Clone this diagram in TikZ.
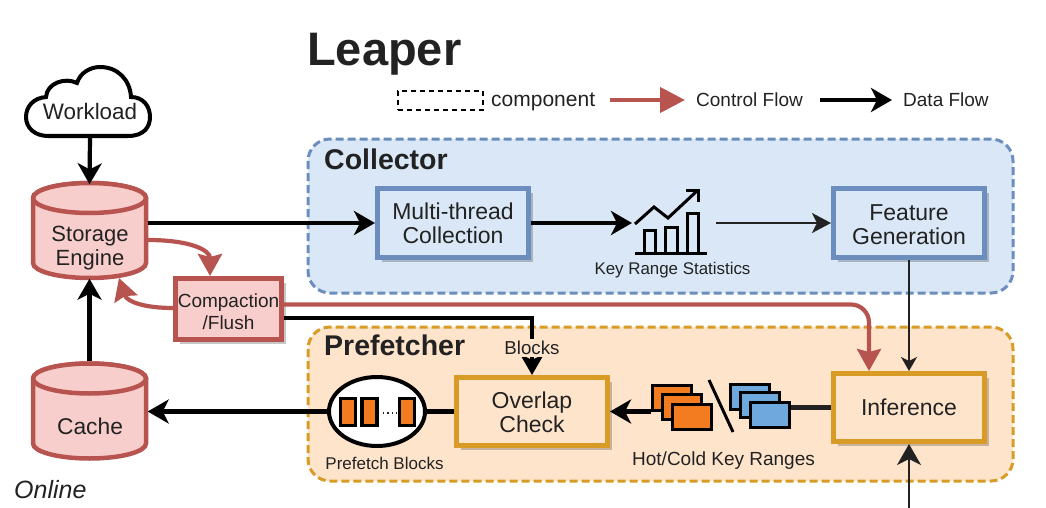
\documentclass[tikz,border=0pt]{standalone}
\usepackage{fontspec}
\setmainfont{Liberation Sans}
\usetikzlibrary{arrows.meta,shadows,calc,shapes.geometric}
\definecolor{ink}{HTML}{222222}
\definecolor{redS}{HTML}{B85450}
\definecolor{redF}{HTML}{F8CECC}
\definecolor{blueS}{HTML}{6C8EBF}
\definecolor{blueF}{HTML}{D9E7F6}
\definecolor{goldS}{HTML}{D79B26}
\definecolor{goldF}{HTML}{FFE4CC}
\definecolor{orangeF}{HTML}{F47C20}
\definecolor{skyF}{HTML}{6FA8DC}
\newcommand{\fs}[2]{\fontsize{#1}{#2}\selectfont}
\tikzset{
  lbl/.style={inner sep=0pt,text=ink,align=center},
  regionbox/.style={rounded corners=22pt,line width=3pt,dash pattern=on 8pt off 4pt},
  compbase/.style={rectangle,line width=5pt,inner sep=0pt,text=ink,align=center,font=\fs{23}{24},
    drop shadow={shadow xshift=4pt,shadow yshift=-4pt,fill=black,opacity=.22}},
  bluebox/.style={compbase,draw=blueS,fill=blueF,minimum width=151pt,minimum height=69pt},
  goldbox/.style={compbase,draw=goldS,fill=goldF,minimum width=151pt,minimum height=68pt},
  cylanchor/.style={rectangle,inner sep=0pt,minimum width=116pt,minimum height=99pt},
  cylbody/.style={draw=redS,fill=redF,line width=4.5pt},
  bigtip/.style={-{Stealth[length=21pt,width=24pt,inset=6pt]}},
  midtip/.style={-{Stealth[length=19pt,width=20pt,inset=5pt]}},
  smalltip/.style={-{Stealth[length=14pt,width=16pt,inset=4pt]}},
  redtip/.style={-{Stealth[length=22pt,width=24pt,inset=3pt]}},
  dataflow/.style={draw=black!90!ink,line width=4.2pt,bigtip},
  thinflow/.style={draw=ink,line width=1.7pt},
  ctrlflow/.style={draw=redS,line width=4.2pt,redtip},
  stack/.style={rectangle,draw=black,line width=3.5pt,inner sep=0pt,minimum width=39pt,minimum height=25pt},
  blk/.style={rectangle,draw=black,line width=3.5pt,fill=orangeF,inner sep=0pt,minimum width=15pt,minimum height=27pt},
}
\newcommand{\cylshape}[4]{% x1 x2 ytop ybot
  \path[cylbody] (#1,#3+17) arc[x radius={(#2-#1)/2},y radius=15,start angle=180,end angle=360]
    -- (#2,#4-17) arc[x radius={(#2-#1)/2},y radius=15,start angle=0,end angle=180] -- cycle;
  \path[cylbody] (#1,#3+17) arc[x radius={(#2-#1)/2},y radius=15,start angle=180,end angle=540];
}
\begin{document}
\begin{tikzpicture}[x=1pt,y=-1pt]
\useasboundingbox (0,0) rectangle (1046,508);
% regions
\path[regionbox,draw=blueS,fill=blueF] (308,139) rectangle (1013,293);
\path[regionbox,draw=goldS,fill=goldF] (308,327) rectangle (1013,481);
% titles
\node[lbl,font=\bfseries\fs{47}{50},anchor=west] (title) at (307,54) {Leaper};
\node[lbl,font=\bfseries\fs{28.5}{30},anchor=west] (collector) at (324,159) {Collector};
\node[lbl,font=\bfseries\fs{28.5}{30},anchor=west] (prefetcher) at (324,345) {Prefetcher};
\node[lbl,font=\itshape\fs{25}{26},anchor=west] (online) at (14,490) {Online};
% legend
\node[rectangle,draw=black,line width=2pt,dash pattern=on 5pt off 4pt,minimum width=85pt,minimum height=19pt,inner sep=0pt] (legbox) at (440.5,100.5) {};
\node[lbl,font=\fs{21}{22},anchor=west] (legcomp) at (491,102) {component};
\coordinate (lr1) at (610,100); \coordinate (lr2) at (685,100);
\draw[draw=redS,line width=4.2pt,-{Stealth[length=25pt,width=25pt,inset=0pt]}] (lr1) -- (lr2);
\node[lbl,font=\fs{19}{20},anchor=west] (legctrl) at (696,100) {Control Flow};
\coordinate (lb1) at (820,100); \coordinate (lb2) at (892,100);
\draw[dataflow] (lb1) -- (lb2);
\node[lbl,font=\fs{19}{20},anchor=west] (legdata) at (903,100) {Data Flow};
% cloud
\draw[line width=4pt,draw=black,fill=white] (48,136) -- (128,136)
  .. controls (144,136) and (150,127) .. (150,117)
  .. controls (150,106) and (143,97) .. (131,97)
  .. controls (130,80) and (118,67) .. (100,67)
  .. controls (90,67) and (80,73) .. (77,83)
  .. controls (65,77) and (47,83) .. (46,97)
  .. controls (33,98) and (26,107) .. (26,117)
  .. controls (26,128) and (35,136) .. (48,136) -- cycle;
\node[lbl,font=\fs{22.4}{24},inner sep=0pt] (workloadtxt) at (90,111) {Workload};
\coordinate (workload) at (90,137);
% cylinders
\node[cylanchor] (storage) at (89.5,232) {};
\node[cylanchor] (cache) at (89.5,411) {};
\cylshape{33}{146}{181}{280}
\cylshape{33}{146}{361.5}{460.5}
\node[lbl,font=\fs{22}{24}] (storagetxt) at (90,248) {Storage\\Engine};
\node[lbl,font=\fs{22.8}{24}] (cachetxt) at (90,426) {Cache};
% boxes
\node[compbase,draw=redS,fill=redF,minimum width=106pt,minimum height=61pt,font=\fs{19}{22}] (compaction) at (228.5,309) {\rule{0pt}{20pt}Compaction\\/Flush};
\node[bluebox] (multi) at (453,223) {Multi-thread\\Collection};
\node[bluebox] (feature) at (909,223) {\rule{0pt}{20pt}Feature\\Generation};
\node[goldbox] (overlap) at (532,411.5) {\rule{0pt}{19pt}Overlap\\Check};
\node[goldbox] (inference) at (909,407.5) {Inference};
% prefetch ellipse
\node[ellipse,draw=black,fill=white,line width=4pt,minimum width=96pt,minimum height=69pt,inner sep=0pt] (pblocks) at (377,411.5) {};
\node[blk] (b1) at (348,412) {};
\node[blk] (b2) at (369.5,412) {};
\node[blk] (b3) at (407,412) {};
\draw[line width=1.2pt,draw=ink,dash pattern=on 1.5pt off 3pt] (b2.east) ++(4,1) -- ++(14,0);
\node[lbl,font=\fs{17}{18}] (pblabel) at (384.5,463) {Prefetch Blocks};
% stacks
\node[stack,fill=orangeF] (o1) at (672,398) {};
\node[stack,fill=orangeF] (o2) at (682,407) {};
\node[stack,fill=orangeF] (o3) at (692,417) {};
\node[stack,fill=skyF] (s1) at (750,397) {};
\node[stack,fill=skyF] (s2) at (760,405) {};
\node[stack,fill=skyF] (s3) at (770,415) {};
\coordinate (sl1) at (709,380); \coordinate (sl2) at (733,432);
\draw[line width=3pt,draw=black] (sl1) -- (sl2);
\node[lbl,font=\fs{19}{20}] (hclabel) at (723.5,461) {Hot/Cold Key Ranges};
% stats icon
\draw[line width=3pt,draw=black] (635,253) coordinate (ib1) -- (707,253) coordinate (ib2);
\draw[line width=3pt,draw=black] (644,253) |- (655,230) -- (655,253);
\draw[line width=3pt,draw=black] (665,253) |- (677,227) -- (677,253);
\draw[line width=3pt,draw=black] (687,253) |- (698,213) -- (698,253);
\draw[line width=3pt,draw=black] (635,224) -- (654,207) -- (668,218) -- (698,190);
\draw[line width=3pt,draw=black] (686,190) -- (698,190) -- (698,202);
\node[lbl,font=\fs{16.9}{18}] (krlabel) at (672.5,270) {Key Range Statistics};
\coordinate (iconL) at (632,223); \coordinate (iconR) at (716,223);
% connectors
\draw[dataflow] (workload) -- ($(storage.north)+(0,2)$);
\draw[dataflow] (cache.north) -- ($(storage.south)+(0,-3)$);
\draw[dataflow] (multi.west -| storage.east) -- (multi.west);
\draw[dataflow] (multi.east) -- (iconL);
\draw[thinflow,midtip] (iconR) -- (feature.west);
\draw[thinflow,smalltip] (feature.south) -- (inference.north);
\coordinate (infin) at (909,508);
\draw[thinflow,bigtip] (infin) -- (inference.south);
\coordinate (cs) at (148,240); \coordinate (ct) at (210,276);
\draw[ctrlflow] (cs) .. controls (190,240) and (210,250) .. (ct);
\coordinate (rs) at (173,308); \coordinate (rt) at (119,278);
\draw[ctrlflow] (rs) .. controls (145,308) and (127,302) .. (rt);
\coordinate (infred) at (869,371);
\draw[ctrlflow,rounded corners=18pt] (284,304.5) coordinate (cf1) -- (869,304.5) -- (infred);
\draw[draw=black,line width=4.2pt,bigtip] (284,318) coordinate (cf2) -| (overlap.north);
\node[lbl,font=\fs{18.7}{20},fill=goldF,inner ysep=2pt,inner xsep=1pt] (blocks) at (532,348) {Blocks};
\draw[dataflow] (o1.west |- overlap.east) -- (overlap.east);
\draw[draw=black,line width=4.2pt] (overlap.west) -- (pblocks.east);
\draw[dataflow] (pblocks.west) -- (cache.east |- pblocks.west);
\draw[draw=ink,line width=4.2pt] (inference.west) -- (s3.east |- inference.west);
\end{tikzpicture}
\end{document}
